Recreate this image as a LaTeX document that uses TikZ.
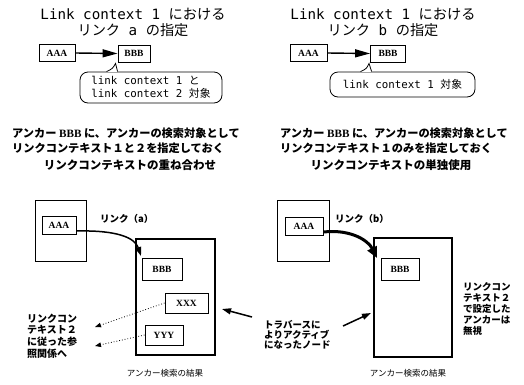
\documentclass[tikz,border=0pt]{standalone}
\usepackage{fontspec}
\setmainfont{Noto Sans CJK JP}
\newfontfamily\mono{DejaVu Sans Mono}
\newfontfamily\serf{Liberation Serif}
\usetikzlibrary{arrows.meta,calc}
\begin{document}
\begin{tikzpicture}[x=1pt,y=-1pt,
  sbox/.style={draw, line width=0.9pt, minimum width=34pt, minimum height=17pt, inner sep=0pt,
    font=\serf\bfseries\fontsize{9.5}{9.5}\selectfont},
  page/.style={draw, line width=0.7pt, inner sep=0pt},
  bigbox/.style={draw, line width=2.2pt, inner sep=0pt},
  ttl/.style={align=center, inner sep=0pt, font=\fontsize{14.2}{15.5}\selectfont},
  callout/.style={draw, line width=0.8pt, rounded corners=8pt, inner sep=0pt, align=left,
    font=\fontsize{10.8}{12.8}\selectfont},
  desc/.style={align=left, inner sep=0pt, font=\bfseries\fontsize{11.2}{15}\selectfont},
  subt/.style={inner sep=0pt, font=\bfseries\fontsize{11.5}{12}\selectfont},
  small/.style={align=left, inner sep=0pt, font=\bfseries\fontsize{10}{11.7}\selectfont},
  captxt/.style={inner sep=0pt, font=\fontsize{8.5}{9}\selectfont},
  lnk/.style={inner sep=0pt, font=\bfseries\fontsize{9.5}{10}\selectfont},
  toparr/.style={line width=1.4pt, -{Triangle[length=15pt,width=8pt]}},
  dotarr/.style={line width=0.8pt, dotted, -{Triangle[length=6pt,width=4.5pt]}},
  solarr/.style={line width=1.5pt, -{Triangle[length=9pt,width=6pt]}}
]
\useasboundingbox (0,0) rectangle (524,384);

% ---------- top left ----------
\node[ttl] (t1) at (133,22.5) {{\mono Link context 1 }における\\リンク{\mono\ a }の指定};
\node[sbox, minimum width=36pt] (a1) at (57,53) {AAA};
\node[sbox, minimum width=32pt] (b1) at (134,53.5) {BBB};
\draw[toparr] (a1.east) -- (b1.west);
\node[callout, minimum width=142pt, minimum height=31pt] (cl1) at (151,87.5)
  {{\mono link context 1 }と\\{\mono link context 2 }対象};
\coordinate (tl1) at ($(cl1.north west)+(27,0)$);
\coordinate (tr1) at ($(cl1.north west)+(38,0)$);
\draw[white, line width=1.4pt] (tl1) -- (tr1);
\draw[line width=0.8pt] (tl1) .. controls ($(tl1)+(6,-3)$) .. ([xshift=-2pt,yshift=-1pt]b1.south west) -- (tr1);
\node[desc, anchor=west] (d1) at (12,140.5)
  {アンカー {\serf\bfseries BBB} に、アンカーの検索対象として\\リンクコンテキスト１と２を指定しておく};
\node[subt] (s1) at (130,165) {リンクコンテキストの重ね合わせ};

% ---------- top right ----------
\node[ttl] (t2) at (383,22.5) {{\mono Link context 1 }における\\リンク{\mono\ b }の指定};
\node[sbox, minimum width=37pt] (a2) at (308.5,53) {AAA};
\node[sbox, minimum width=35pt] (b2) at (388,53.5) {BBB};
\draw[toparr] (a2.east) -- (b2.west);
\node[callout, minimum width=145pt, minimum height=25pt, align=center] (cl2) at (402.5,84.5)
  {{\mono link context 1 }対象};
\coordinate (tl2) at ($(cl2.north west)+(31,0)$);
\coordinate (tr2) at ($(cl2.north west)+(42,0)$);
\draw[white, line width=1.4pt] (tl2) -- (tr2);
\draw[line width=0.8pt] (tl2) .. controls ($(tl2)+(6,-3)$) .. ([xshift=-1pt,yshift=-1pt]b2.south west) -- (tr2);
\node[desc, anchor=west] (d2) at (280,140.5)
  {アンカー {\serf\bfseries BBB} に、アンカーの検索対象として\\リンクコンテキスト１のみを指定しておく};
\node[subt] (s2) at (391,165) {リンクコンテキストの単独使用};

% ---------- bottom left ----------
\node[page, minimum width=51pt, minimum height=61pt] (p1) at (60.5,230.5) {};
\node[sbox, minimum width=34pt, minimum height=18pt] (a3) at (59,225) {AAA};
\node[lnk, anchor=west] (la) at (100,219) {リンク（a）};
\node[bigbox, minimum width=79pt, minimum height=116pt] (g1) at (175.5,297) {};
\node[sbox, minimum width=40pt, minimum height=22pt] (b3) at (162,269) {BBB};
\node[sbox, minimum width=43pt, minimum height=20pt] (x3) at (186.5,303) {XXX};
\node[sbox, minimum width=38pt, minimum height=20pt] (y3) at (164,335) {YYY};
\coordinate (tipa) at (141,256);
\draw[solarr] ([yshift=-6pt]a3.east) .. controls (118,230) and (135,238) .. (tipa);
\node[small, anchor=west] (lt) at (27,336) {リンクコン\\テキスト２\\に従った参\\照関係へ};
\coordinate (dx) at (95,327);
\coordinate (dy) at (95,346);
\draw[dotarr] (x3.west) -- (dx);
\draw[dotarr] (y3.west) -- (dy);
\node[captxt] (c1) at (165,373) {アンカー検索の結果};

% ---------- bottom right ----------
\node[page, minimum width=52pt, minimum height=61pt] (p2) at (303,230.5) {};
\node[sbox, minimum width=38pt, minimum height=18pt] (a4) at (304,226) {AAA};
\node[lnk, anchor=west] (lb) at (335,219) {リンク（b）};
\node[bigbox, minimum width=78pt, minimum height=119pt] (g2) at (413,297.5) {};
\node[sbox, minimum width=38pt, minimum height=22pt] (b4) at (400,269) {BBB};
\coordinate (tipb) at (377,258);
\draw[line width=3pt, -{Triangle[length=11pt,width=10pt]}] ([yshift=-6pt]a4.east) .. controls (350,229) and (368,240) .. (tipb);
\node[small, anchor=west, font=\bfseries\fontsize{9.5}{11}\selectfont] (rt) at (463,309)
  {リンクコン\\テキスト２\\で設定した\\アンカーは\\無視};
\node[small, anchor=west, font=\bfseries\fontsize{9.5}{10}\selectfont] (tv) at (264,335)
  {トラバースに\\よりアクティブ\\になったノード};
\coordinate (r1s) at (343,326);
\coordinate (r1e) at (371,313);
\coordinate (l1s) at (252,317);
\coordinate (l1e) at (222,309);
\draw[solarr] (r1s) -- (r1e);
\draw[solarr] (l1s) -- (l1e);
\node[captxt] (c2) at (408,373) {アンカー検索の結果};
\end{tikzpicture}
\end{document}
